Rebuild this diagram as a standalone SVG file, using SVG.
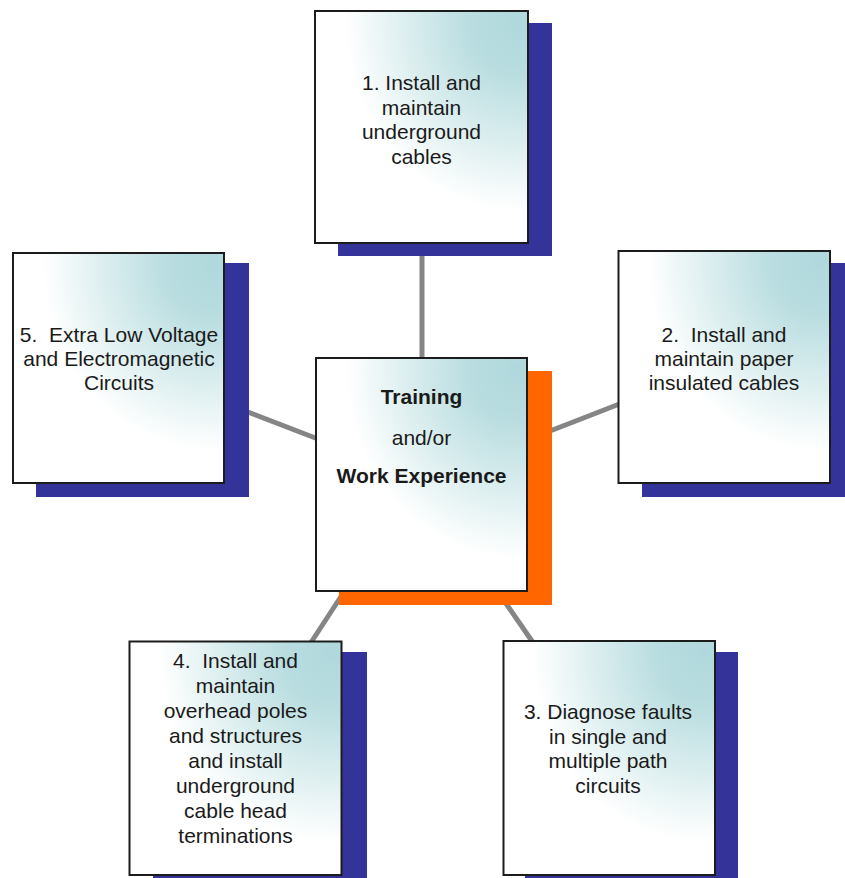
<svg xmlns="http://www.w3.org/2000/svg" width="845" height="878" viewBox="0 0 845 878">
  <defs>
    <radialGradient id="boxfill" cx="0.95" cy="0.05" r="0.9" fx="0.95" fy="0.05">
      <stop offset="0" stop-color="#b0d8dc"/>
      <stop offset="0.25" stop-color="#b9dde0"/>
      <stop offset="0.6" stop-color="#deeff0"/>
      <stop offset="0.9" stop-color="#ffffff"/>
    </radialGradient>
  </defs>
  <style>
    .box { fill: url(#boxfill); stroke: #1c1c1c; stroke-width: 2; }
    .shadow { fill: #333399; }
    .shadow-main { fill: #ff6600; }
    .conn { stroke: #858585; stroke-width: 5; fill: none; }
    text { font-family: "Liberation Sans", Arial, sans-serif; font-size: 21px; fill: #1a1a1a; text-anchor: middle; }
    .bold { font-weight: bold; }
  </style>
  <rect width="845" height="878" fill="#ffffff"/>

  <g id="connectors">
    <line class="conn" x1="422" y1="250" x2="422" y2="360"/>
    <line class="conn" x1="240" y1="409" x2="318" y2="439"/>
    <line class="conn" x1="550" y1="431" x2="622" y2="403"/>
    <line class="conn" x1="342" y1="595" x2="310" y2="644"/>
    <line class="conn" x1="505" y1="602" x2="534" y2="644"/>
  </g>

  <g id="node-center">
    <rect class="shadow-main" x="339" y="371" width="213" height="234"/>
    <rect class="box" x="316" y="358" width="211" height="233"/>
    <text class="bold" x="421.5" y="404">Training</text>
    <text x="421.5" y="445">and/or</text>
    <text class="bold" x="421.5" y="483">Work Experience</text>
  </g>

  <g id="node-1">
    <rect class="shadow" x="338" y="23" width="214" height="233"/>
    <rect class="box" x="315" y="11" width="213" height="232"/>
    <text x="421.5" y="90">1. Install and</text>
    <text x="421.5" y="114.5">maintain</text>
    <text x="421.5" y="139">underground</text>
    <text x="421.5" y="163.5">cables</text>
  </g>

  <g id="node-2">
    <rect class="shadow" x="642" y="263" width="210" height="234"/>
    <rect class="box" x="618.5" y="251" width="211.5" height="232"/>
    <text x="724" y="342" xml:space="preserve">2.  Install and</text>
    <text x="724" y="366">maintain paper</text>
    <text x="724" y="390">insulated cables</text>
  </g>

  <g id="node-3">
    <rect class="shadow" x="525" y="652" width="213" height="240"/>
    <rect class="box" x="503.5" y="641" width="211.5" height="234"/>
    <text x="608" y="719">3. Diagnose faults</text>
    <text x="608" y="743.7">in single and</text>
    <text x="608" y="768.4">multiple path</text>
    <text x="608" y="793">circuits</text>
  </g>

  <g id="node-4">
    <rect class="shadow" x="153" y="652" width="214" height="240"/>
    <rect class="box" x="129.5" y="641.5" width="212" height="233.5"/>
    <text x="235.5" y="668" xml:space="preserve">4.  Install and</text>
    <text x="235.5" y="693">maintain</text>
    <text x="235.5" y="718">overhead poles</text>
    <text x="235.5" y="743">and structures</text>
    <text x="235.5" y="768">and install</text>
    <text x="235.5" y="793">underground</text>
    <text x="235.5" y="818">cable head</text>
    <text x="235.5" y="843">terminations</text>
  </g>

  <g id="node-5">
    <rect class="shadow" x="36" y="263" width="213" height="234"/>
    <rect class="box" x="13" y="253" width="211" height="230"/>
    <text x="119" y="342" xml:space="preserve">5.  Extra Low Voltage</text>
    <text x="119" y="366">and Electromagnetic</text>
    <text x="119" y="390">Circuits</text>
  </g>
</svg>
